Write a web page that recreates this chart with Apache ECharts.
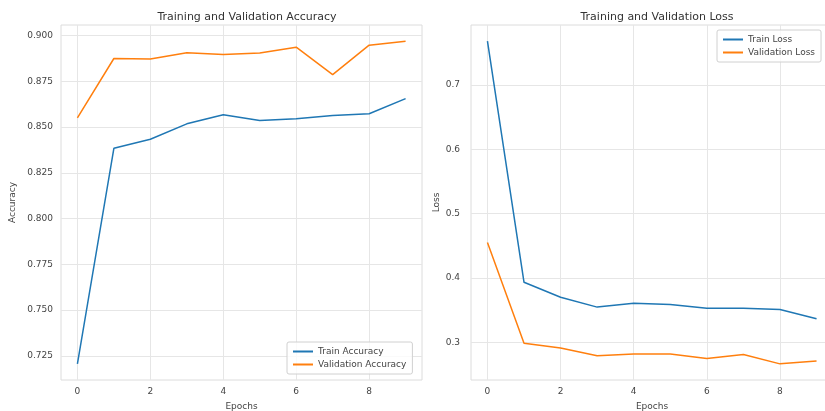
<!DOCTYPE html>
<html>
<head>
<meta charset="utf-8">
<script src="https://cdn.jsdelivr.net/npm/echarts@6/dist/echarts.min.js"></script>
<style>
  html, body { margin: 0; padding: 0; background: #fff; }
  #chart { width: 825px; height: 411px; }
</style>
</head>
<body>
<div id="chart"></div>
<script>
// Per-epoch training history
const epochs = [0, 1, 2, 3, 4, 5, 6, 7, 8, 9];
const trainAccuracy = [0.7206, 0.8384, 0.8434, 0.8518, 0.8568, 0.8536, 0.8546, 0.8564, 0.8573, 0.8656];
const valAccuracy = [0.8550, 0.8875, 0.8872, 0.8906, 0.8897, 0.8905, 0.8937, 0.8787, 0.8948, 0.8970];
const trainLoss = [0.768, 0.3933, 0.370, 0.3547, 0.3608, 0.3588, 0.353, 0.353, 0.351, 0.3365];
const valLoss = [0.455, 0.2985, 0.291, 0.279, 0.282, 0.282, 0.2747, 0.281, 0.2665, 0.271];

const titles = ['Training and Validation Accuracy', 'Training and Validation Loss'];
const accTicks = [0.725, 0.750, 0.775, 0.800, 0.825, 0.850, 0.875, 0.900];
const lossTicks = [0.3, 0.4, 0.5, 0.6, 0.7];
const epochTicks = [0, 2, 4, 6, 8];

const BLUE = '#1f77b4';
const ORANGE = '#ff7f0e';
const FONT = 'DejaVu Sans';
const TEXT = '#444';
const GRIDLINE = '#e6e6e6';

// matplotlib-style 5% padding around the data range
function padded(values) {
  const lo = Math.min(...values), hi = Math.max(...values);
  const m = (hi - lo) * 0.05;
  return [lo - m, hi + m];
}
const xExt = padded(epochs);
const accExt = padded(trainAccuracy.concat(valAccuracy));
const lossExt = padded(trainLoss.concat(valLoss));

function pairs(ys) { return epochs.map((e, i) => [e, ys[i]]); }

function axisCommon(ext, ticks, digits) {
  return {
    type: 'value', min: ext[0], max: ext[1],
    nameLocation: 'middle',
    nameTextStyle: { fontFamily: FONT, fontSize: 9, color: TEXT },
    axisLine: { show: false },
    axisTick: { show: false, customValues: ticks },
    axisLabel: {
      fontFamily: FONT, fontSize: 9, color: TEXT,
      customValues: ticks,
      formatter: v => Number(v).toFixed(digits)
    },
    splitLine: { show: true, lineStyle: { color: GRIDLINE, width: 1 } }
  };
}

function xAxis(gridIndex) {
  const a = axisCommon(xExt, epochTicks, 0);
  a.gridIndex = gridIndex;
  a.name = 'Epochs';
  a.nameGap = 22;
  a.axisLabel.margin = 7;
  return a;
}

function yAxis(gridIndex, ext, name, gap, ticks, digits, margin) {
  const a = axisCommon(ext, ticks, digits);
  a.gridIndex = gridIndex;
  a.name = name;
  a.nameGap = gap;
  a.nameRotate = 90;
  a.axisLabel.margin = margin;
  return a;
}

function lineSeries(name, ys, color, xi, yi) {
  return {
    type: 'line', name, data: pairs(ys), xAxisIndex: xi, yAxisIndex: yi,
    showSymbol: false, symbol: 'none', z: 3,
    lineStyle: { color, width: 1.5 }, itemStyle: { color }
  };
}

function legend(names, left, top) {
  return {
    data: names, orient: 'vertical', left, top,
    icon: 'rect', itemWidth: 20, itemHeight: 2, itemGap: 4,
    padding: [5, 6, 5, 6],
    borderColor: '#d0d0d0', borderWidth: 1, borderRadius: 2,
    backgroundColor: 'rgba(255,255,255,0.8)',
    textStyle: { fontFamily: FONT, fontSize: 9, color: TEXT }
  };
}

const gridBase = {
  top: 25, height: 355, show: true, borderColor: '#dcdcdc', borderWidth: 1,
  backgroundColor: '#fff', containLabel: false, outerBoundsMode: 'none'
};

const chart = echarts.init(document.getElementById('chart'), null, { renderer: 'canvas' });
chart.setOption({
  animation: false,
  backgroundColor: '#fff',
  title: [
    { text: titles[0], left: 242, top: 7, textAlign: 'center',
      textStyle: { fontFamily: FONT, fontSize: 11, fontWeight: 'normal', color: '#333' } },
    { text: titles[1], left: 652, top: 7, textAlign: 'center',
      textStyle: { fontFamily: FONT, fontSize: 11, fontWeight: 'normal', color: '#333' } }
  ],
  grid: [
    Object.assign({ left: 61, width: 361 }, gridBase),
    Object.assign({ left: 471, width: 362 }, gridBase)
  ],
  xAxis: [xAxis(0), xAxis(1)],
  yAxis: [
    yAxis(0, accExt, 'Accuracy', 44, accTicks, 3, 8),
    yAxis(1, lossExt, 'Loss', 30, lossTicks, 1, 11)
  ],
  legend: [
    legend(['Train Accuracy', 'Validation Accuracy'], 287, 342),
    legend(['Train Loss', 'Validation Loss'], 717, 30)
  ],
  series: [
    lineSeries('Train Accuracy', trainAccuracy, BLUE, 0, 0),
    lineSeries('Validation Accuracy', valAccuracy, ORANGE, 0, 0),
    lineSeries('Train Loss', trainLoss, BLUE, 1, 1),
    lineSeries('Validation Loss', valLoss, ORANGE, 1, 1)
  ]
});
</script>
</body>
</html>
